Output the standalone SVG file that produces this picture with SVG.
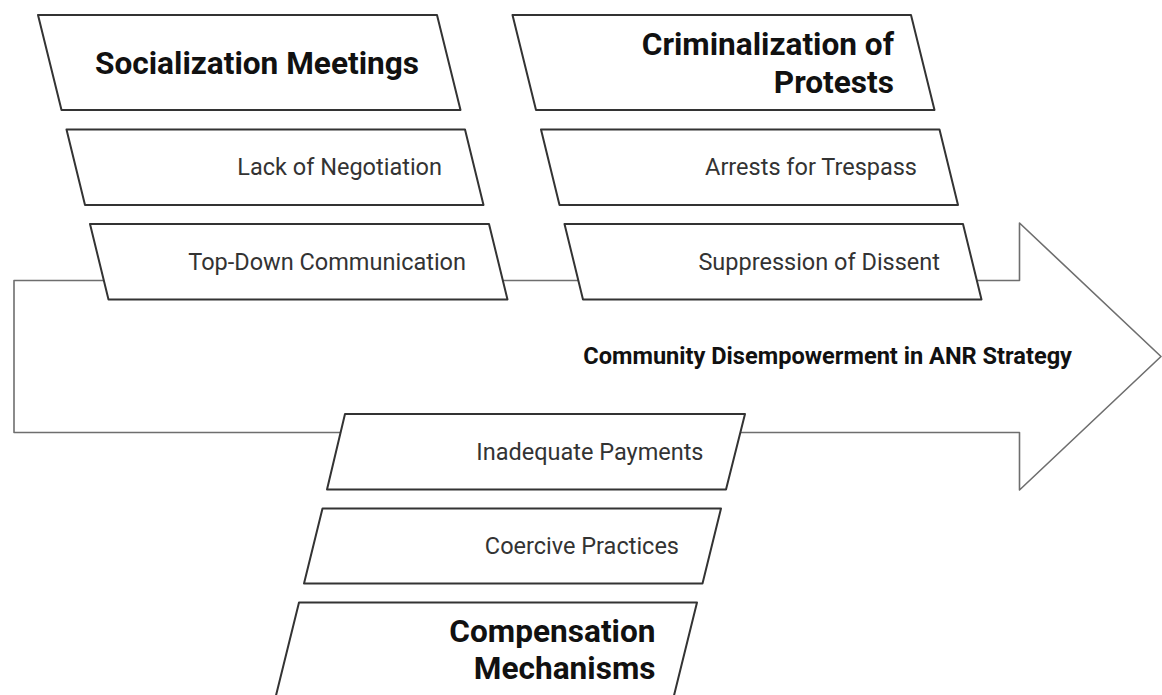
<svg xmlns="http://www.w3.org/2000/svg" width="1162" height="695" viewBox="0 0 1162 695">
  <style>
    .box { fill: #ffffff; stroke: #333333; stroke-width: 2; stroke-linejoin: round; }
    .spine { fill: #ffffff; stroke: #6e6e6e; stroke-width: 1.6; stroke-linejoin: round; }
    .title { font-family: Roboto, "Liberation Sans", sans-serif; font-weight: 700; font-size: 31.6px; fill: #111111; text-anchor: end; }
    .label { font-family: Roboto, "Liberation Sans", sans-serif; font-weight: 400; font-size: 23.5px; fill: #333333; text-anchor: end; }
    .effect { font-family: Roboto, "Liberation Sans", sans-serif; font-weight: 700; font-size: 23.6px; fill: #111111; text-anchor: end; }
  </style>
  <rect width="1162" height="695" fill="#ffffff"/>

  <!-- main spine: the big arrow pointing to the effect -->
  <g id="connectors">
    <path class="spine" d="M14,280.5 H1019.5 V223 L1161,356.5 L1019.5,490 V432.5 H14 Z"/>
  </g>

  <g id="effect">
    <text class="effect" x="1072" y="364">Community Disempowerment in ANR Strategy</text>
  </g>

  <!-- upper-left branch -->
  <g id="socialization-meetings">
    <polygon class="box" points="38,15 437,15 460.5,110 61.5,110"/>
    <text class="title" x="419" y="74">Socialization Meetings</text>
  </g>
  <g id="lack-of-negotiation">
    <polygon class="box" points="66.5,129.5 465,129.5 483.5,205 85,205"/>
    <text class="label" x="442" y="175">Lack of Negotiation</text>
  </g>
  <g id="top-down-communication">
    <polygon class="box" points="90,224 489,224 507.5,299.5 108.5,299.5"/>
    <text class="label" x="466" y="270">Top-Down Communication</text>
  </g>

  <!-- upper-right branch -->
  <g id="criminalization-of-protests">
    <polygon class="box" points="512.5,15 911,15 934.5,110 536,110"/>
    <text class="title" x="894" y="55">Criminalization of</text>
    <text class="title" x="894" y="92.5">Protests</text>
  </g>
  <g id="arrests-for-trespass">
    <polygon class="box" points="541,129.5 939.5,129.5 958,205 559.5,205"/>
    <text class="label" x="917" y="175">Arrests for Trespass</text>
  </g>
  <g id="suppression-of-dissent">
    <polygon class="box" points="564.5,224 963,224 981.5,299.5 583,299.5"/>
    <text class="label" x="940" y="270">Suppression of Dissent</text>
  </g>

  <!-- lower branch -->
  <g id="inadequate-payments">
    <polygon class="box" points="345,414 745,414 726,489.5 327,489.5"/>
    <text class="label" x="703.5" y="460">Inadequate Payments</text>
  </g>
  <g id="coercive-practices">
    <polygon class="box" points="322.5,508.5 721,508.5 702.5,583.5 304,583.5"/>
    <text class="label" x="679" y="554">Coercive Practices</text>
  </g>
  <g id="compensation-mechanisms">
    <polygon class="box" points="299,602.5 697,602.5 673.5,697.5 275.5,697.5"/>
    <text class="title" x="655.5" y="642">Compensation</text>
    <text class="title" x="655.5" y="679">Mechanisms</text>
  </g>
</svg>
